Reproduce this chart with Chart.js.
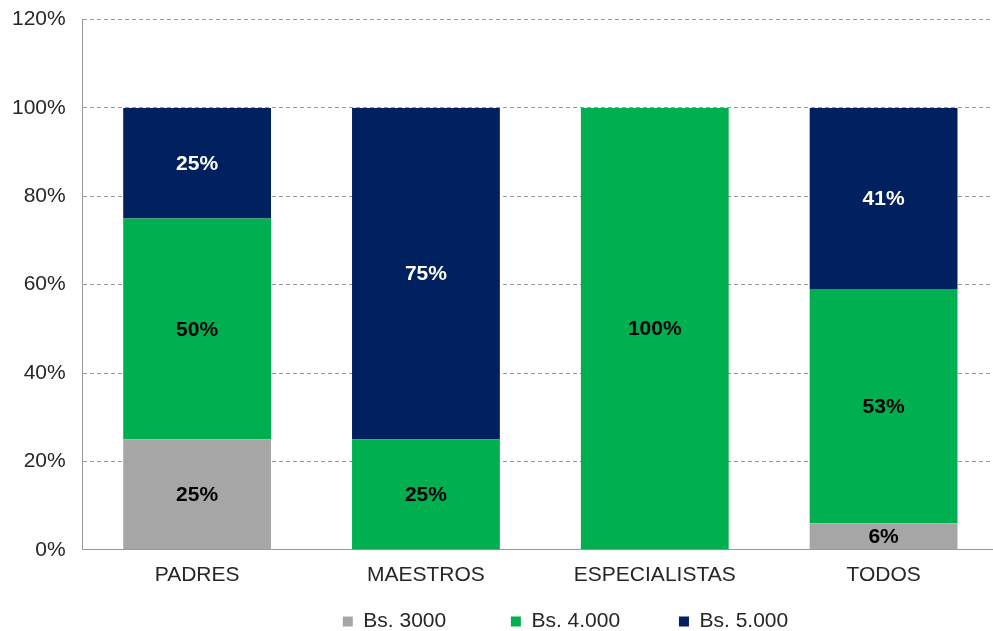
<!DOCTYPE html>
<html>
<head>
<meta charset="utf-8">
<script src="https://cdn.jsdelivr.net/npm/chart.js@4.4.0/dist/chart.umd.min.js"></script>
<style>
  html, body { margin: 0; padding: 0; background: #fff; overflow: hidden; }
  #grafico { display: block; margin-top: -10px; }
</style>
</head>
<body>
<canvas id="grafico" width="1000" height="641"></canvas>
<script>
// categorías y porcentajes por monto
var categorias = ['PADRES', 'MAESTROS', 'ESPECIALISTAS', 'TODOS'];
var bs3000 = [25, 0, 0, 6];
var bs4000 = [50, 25, 100, 53];
var bs5000 = [25, 75, 0, 41];
var ticksY = [0, 20, 40, 60, 80, 100, 120];

var fuente = '"Liberation Sans", Arial, sans-serif';

// etiquetas de valor dentro de cada segmento
var etiquetas = {
    id: 'etiquetas',
    afterDatasetsDraw: function (chart) {
        var ctx = chart.ctx;
        ctx.save();
        ctx.font = 'bold 21px ' + fuente;
        ctx.textAlign = 'center';
        ctx.textBaseline = 'middle';
        chart.data.datasets.forEach(function (ds, i) {
            var meta = chart.getDatasetMeta(i);
            meta.data.forEach(function (bar, j) {
                var v = ds.data[j];
                if (!v) return;
                var y = (bar.y + bar.base) / 2;
                ctx.fillStyle = ds.colorEtiqueta;
                ctx.fillText(v + '%', bar.x, y + 1);
            });
        });
        ctx.restore();
    }
};

// la leyenda va un poco corrida a la derecha
var leyendaCorrida = {
    id: 'leyendaCorrida',
    afterLayout: function (chart) {
        chart.legend.left += 138;
    }
};

// espacios al final de cada entrada para separarlas
var espacios = ['        ', '       ', ''];

var ctx = document.getElementById('grafico');
var myChart = new Chart(ctx, {
    type: 'bar',
    data: {
        labels: categorias,
        datasets: [{
            label: 'Bs. 3000',
            data: bs3000,
            backgroundColor: '#A6A6A6',
            colorEtiqueta: '#000000'
        }, {
            label: 'Bs. 4.000',
            data: bs4000,
            backgroundColor: '#00B050',
            colorEtiqueta: '#000000'
        }, {
            label: 'Bs. 5.000',
            data: bs5000,
            backgroundColor: '#002060',
            colorEtiqueta: '#FFFFFF'
        }]
    },
    options: {
        responsive: false,
        maintainAspectRatio: false,
        animation: false,
        layout: { padding: { top: 0, left: -5, right: 2, bottom: -11 } },
        datasets: {
            bar: { barPercentage: 0.646, categoryPercentage: 1.0 }
        },
        scales: {
            x: {
                stacked: true,
                grid: { display: false },
                border: { color: '#999999', width: 1 },
                ticks: { color: '#262626', font: { family: fuente, size: 21 }, padding: 5 }
            },
            y: {
                stacked: true,
                min: 0,
                max: 120,
                afterBuildTicks: function (axis) {
                    axis.ticks = ticksY.map(function (v) { return { value: v }; });
                },
                grid: { color: '#999999', lineWidth: 1, drawTicks: false },
                border: { color: '#999999', width: 1, dash: [4, 3] },
                ticks: {
                    color: '#262626',
                    font: { family: fuente, size: 21 },
                    padding: 17,
                    callback: function (v) { return v + '%'; }
                }
            }
        },
        plugins: {
            legend: {
                position: 'bottom',
                labels: {
                    color: '#262626',
                    font: { family: fuente, size: 21 },
                    boxWidth: 10,
                    boxHeight: 10,
                    padding: 18,
                    generateLabels: function (chart) {
                        var items = Chart.defaults.plugins.legend.labels.generateLabels(chart);
                        items.forEach(function (it, k) {
                            it.text = it.text + espacios[k];
                        });
                        return items;
                    }
                }
            },
            tooltip: { enabled: false }
        }
    },
    plugins: [etiquetas, leyendaCorrida]
});
</script>
</body>
</html>
